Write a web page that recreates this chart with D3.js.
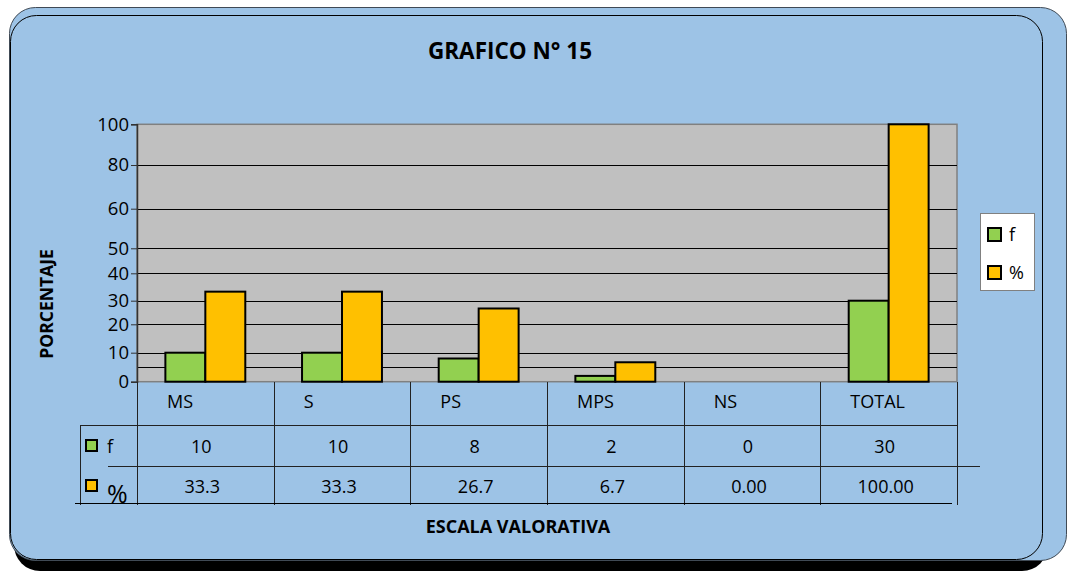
<!DOCTYPE html>
<html>
<head>
<meta charset="utf-8">
<script src="https://cdn.jsdelivr.net/npm/d3@7"></script>
<style>
  body { margin: 0; background: #fff; }
  svg { display: block; font-family: "Open Sans", Lato, sans-serif; }
</style>
</head>
<body>
<div id="wrapper"></div>
<script>
const categories = ['MS', 'S', 'PS', 'MPS', 'NS', 'TOTAL'];
const seriesNames = ['f', '%'];
const fValues = [10, 10, 8, 2, 0, 30];
const pctValues = [33.3, 33.3, 26.7, 6.7, 0, 100];
const fLabels = ['10', '10', '8', '2', '0', '30'];
const pctLabels = ['33.3', '33.3', '26.7', '6.7', '0.00', '100.00'];
const yTicks = [0, 10, 20, 30, 40, 50, 60, 80, 100];
const yGrid = [5, 10, 20, 30, 40, 50, 60, 80];

const colors = { 'f': '#92d050', '%': '#ffc000' };

const width = 1069;
const height = 571;
const plot = { left: 137, right: 957, top: 124, bottom: 382 };

const svg = d3.select('#wrapper')
    .append('svg')
        .attr('width', width)
        .attr('height', height);

// frame: shadow, outer panel, inner border
svg.append('rect')
    .attr('x', 14).attr('y', 20)
    .attr('width', 1034).attr('height', 551)
    .attr('rx', 26)
    .attr('fill', '#000');
svg.append('rect')
    .attr('x', 9.5).attr('y', 7.5)
    .attr('width', 1057).attr('height', 553)
    .attr('rx', 26)
    .attr('fill', '#9dc3e6')
    .attr('stroke', '#404a55');
svg.append('rect')
    .attr('x', 10.5).attr('y', 15.5)
    .attr('width', 1032).attr('height', 544)
    .attr('rx', 26)
    .attr('fill', 'none')
    .attr('stroke', '#000');

// the chart's y axis is not linear, so each labelled step gets its own segment
const yScale = d3.scaleLinear()
    .domain([0, 10, 20, 30, 40, 50, 60, 80, 100])
    .range([381.7, 352.7, 324.3, 300.7, 273.3, 248.3, 208.7, 165, 124.3]);

const xScale = d3.scaleBand()
    .domain(categories)
    .range([plot.left, plot.right]);

const xSub = d3.scaleBand()
    .domain(seriesNames)
    .range([0, xScale.bandwidth()])
    .paddingOuter(0.71);

// plot area
svg.append('rect')
    .attr('x', plot.left).attr('y', yScale(100))
    .attr('width', plot.right - plot.left)
    .attr('height', yScale(0) - yScale(100))
    .attr('fill', '#c0c0c0')
    .attr('stroke', '#808080')
    .attr('stroke-width', 1.5);

svg.append('g')
    .selectAll('line')
    .data(yGrid)
    .join('line')
        .attr('x1', plot.left).attr('x2', plot.right)
        .attr('y1', d => Math.round(yScale(d)) + 0.5)
        .attr('y2', d => Math.round(yScale(d)) + 0.5)
        .attr('stroke', '#000')
        .attr('stroke-width', 1);

// bars
const rows = categories.map((c, i) => ({ cat: c, f: fValues[i], '%': pctValues[i] }));

svg.append('g')
    .selectAll('g')
    .data(rows)
    .join('g')
        .attr('transform', d => `translate(${xScale(d.cat)},0)`)
    .selectAll('rect')
    .data(d => seriesNames.map(k => ({ key: k, value: d[k] })).filter(e => e.value > 0))
    .join('rect')
        .attr('x', d => xSub(d.key))
        .attr('width', xSub.bandwidth())
        .attr('y', d => yScale(d.value))
        .attr('height', d => yScale(0) - yScale(d.value))
        .attr('fill', d => colors[d.key])
        .attr('stroke', '#000')
        .attr('stroke-width', 2);

// y axis
const yAxis = svg.append('g')
    .attr('transform', `translate(${plot.left},0)`)
    .call(d3.axisLeft(yScale).tickValues(yTicks).tickSize(6).tickPadding(2).tickFormat(d3.format('d')));
yAxis.select('.domain').attr('stroke', '#333').attr('stroke-width', 1.5);
yAxis.selectAll('.tick line').attr('stroke', '#333');
yAxis.selectAll('.tick text')
    .attr('fill', '#000')
    .style('font-family', '"Open Sans", sans-serif')
    .style('font-size', '18.5px');

// data table under the plot
const table = svg.append('g');
const tableBottom = 503;
const rowLine1 = 425;
const rowLine2 = 466;

const boundaries = categories.map(c => xScale(c)).concat([plot.right]);
table.selectAll('line.v')
    .data(boundaries)
    .join('line')
        .attr('class', 'v')
        .attr('x1', d => Math.round(d) + 0.5).attr('x2', d => Math.round(d) + 0.5)
        .attr('y1', plot.bottom).attr('y2', tableBottom + 2)
        .attr('stroke', '#222');

table.append('line')
    .attr('x1', 80.5).attr('x2', 80.5)
    .attr('y1', rowLine1).attr('y2', tableBottom + 2)
    .attr('stroke', '#222');
table.append('line')
    .attr('x1', 80).attr('x2', plot.right)
    .attr('y1', rowLine1 + 0.5).attr('y2', rowLine1 + 0.5)
    .attr('stroke', '#222');
table.append('line')
    .attr('x1', 108).attr('x2', 980)
    .attr('y1', rowLine2 + 0.5).attr('y2', rowLine2 + 0.5)
    .attr('stroke', '#222');
table.append('line')
    .attr('x1', 75).attr('x2', 952)
    .attr('y1', tableBottom + 0.5).attr('y2', tableBottom + 0.5)
    .attr('stroke', '#000');

table.selectAll('text.cat')
    .data(categories)
    .join('text')
        .attr('class', 'cat')
        .attr('x', d => xScale(d) + 30)
        .attr('y', 408)
        .style('font-size', '18px')
        .text(d => d);

table.selectAll('text.fval')
    .data(fLabels)
    .join('text')
        .attr('class', 'fval')
        .attr('x', (d, i) => xScale(categories[i]) + xScale.bandwidth() / 2 - 4)
        .attr('y', 453)
        .attr('text-anchor', 'middle')
        .style('font-size', '18px')
        .text(d => d);

table.selectAll('text.pval')
    .data(pctLabels)
    .join('text')
        .attr('class', 'pval')
        .attr('x', (d, i) => xScale(categories[i]) + xScale.bandwidth() / 2 - 3)
        .attr('y', 493)
        .attr('text-anchor', 'middle')
        .style('font-size', '18px')
        .text(d => d);

// legend keys inside the table
const tableKeys = [
    { key: 'f', y: 440, size: '18px', ty: 453 },
    { key: '%', y: 480, size: '25px', ty: 503 },
];
tableKeys.forEach(k => {
    table.append('rect')
        .attr('x', 86).attr('y', k.y)
        .attr('width', 11).attr('height', 11)
        .attr('fill', colors[k.key])
        .attr('stroke', '#000')
        .attr('stroke-width', 2);
    table.append('text')
        .attr('x', 107).attr('y', k.ty)
        .style('font-size', k.size)
        .text(k.key);
});

// legend box
const legend = svg.append('g');
legend.append('rect')
    .attr('x', 980.5).attr('y', 213.5)
    .attr('width', 54).attr('height', 77)
    .attr('fill', '#fff')
    .attr('stroke', '#808080');
seriesNames.forEach((k, i) => {
    legend.append('rect')
        .attr('x', 988).attr('y', 228 + i * 38)
        .attr('width', 13).attr('height', 13)
        .attr('fill', colors[k])
        .attr('stroke', '#000')
        .attr('stroke-width', 2);
    legend.append('text')
        .attr('x', 1009).attr('y', 241 + i * 38)
        .style('font-size', '18px')
        .text(k);
});

// titles
svg.append('text')
    .attr('x', 510).attr('y', 59)
    .attr('text-anchor', 'middle')
    .style('font-size', '22.5px')
    .style('font-weight', 'bold')
    .text('GRAFICO N° 15');

svg.append('text')
    .attr('transform', 'translate(53,304) rotate(-90)')
    .attr('text-anchor', 'middle')
    .style('font-size', '17.5px')
    .style('font-weight', 'bold')
    .text('PORCENTAJE');

svg.append('text')
    .attr('x', 518).attr('y', 533)
    .attr('text-anchor', 'middle')
    .style('font-size', '18px')
    .style('font-weight', 'bold')
    .text('ESCALA VALORATIVA');
</script>
</body>
</html>
